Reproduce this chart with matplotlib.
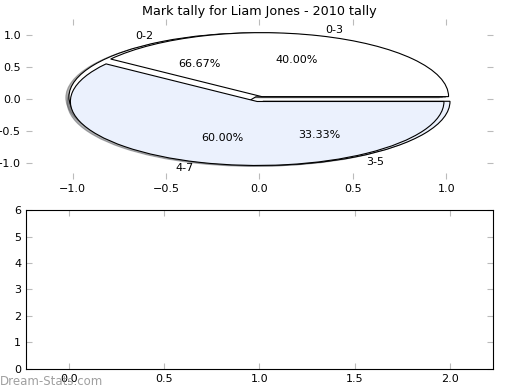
import matplotlib
matplotlib.use("Agg")
import matplotlib.pyplot as plt

title = "Mark tally for Liam Jones - 2010 tally"
# first pie (drawn underneath)
labels_a = ["0-2", "3-5"]
values_a = [2, 1]
# second pie (drawn on top)
labels_b = ["0-3", "4-7"]
values_b = [2, 3]
pie_colors = ["white", "#ebf1fd"]

bottom_xlim = (-0.225, 2.225)
bottom_ylim = (0, 6)

fig = plt.figure(figsize=(5.2, 3.9), dpi=100)

shadow_opts = {"ox": -0.012, "oy": -0.01, "shade": 0.6}

ax1 = fig.add_axes([0.05, 0.541, 0.898, 0.41])
ax1.pie(values_a, labels=labels_a, colors=pie_colors, autopct="%1.2f%%",
        explode=(0.04, 0.04), shadow=shadow_opts, startangle=0,
        wedgeprops={"edgecolor": "black", "linewidth": 0.8},
        textprops={"fontsize": 8})
ax1.pie(values_b, labels=labels_b, colors=pie_colors, autopct="%1.2f%%",
        explode=(0.04, 0.04), shadow=shadow_opts, startangle=0,
        wedgeprops={"edgecolor": "black", "linewidth": 0.8},
        textprops={"fontsize": 8})
ax1.set_aspect("auto")
for s in ax1.spines.values():
    s.set_visible(False)
ax1.set_xlim(-1.25, 1.25)
ax1.set_ylim(-1.25, 1.25)
ax1.set_xticks([-1.0, -0.5, 0.0, 0.5, 1.0])
ax1.set_yticks([-1.0, -0.5, 0.0, 0.5, 1.0])
ax1.tick_params(direction="in", length=4, color="#bbbbbb", labelsize=8,
                top=True, right=True, labelcolor="black")
ax1.set_title(title, fontsize=9.2, pad=3)

ax2 = fig.add_axes([0.05, 0.054, 0.898, 0.4075])
ax2.set_xlim(*bottom_xlim)
ax2.set_ylim(*bottom_ylim)
ax2.set_xticks([0.0, 0.5, 1.0, 1.5, 2.0])
ax2.set_yticks(range(0, 7))
ax2.tick_params(direction="in", length=4, color="#bbbbbb", labelsize=8,
                top=True, right=True)

fig.text(0.0, 0.012, "Dream-Stats.com", fontsize=8.5, color="#888888",
         alpha=0.8)

fig.savefig("out.png", dpi=100)
